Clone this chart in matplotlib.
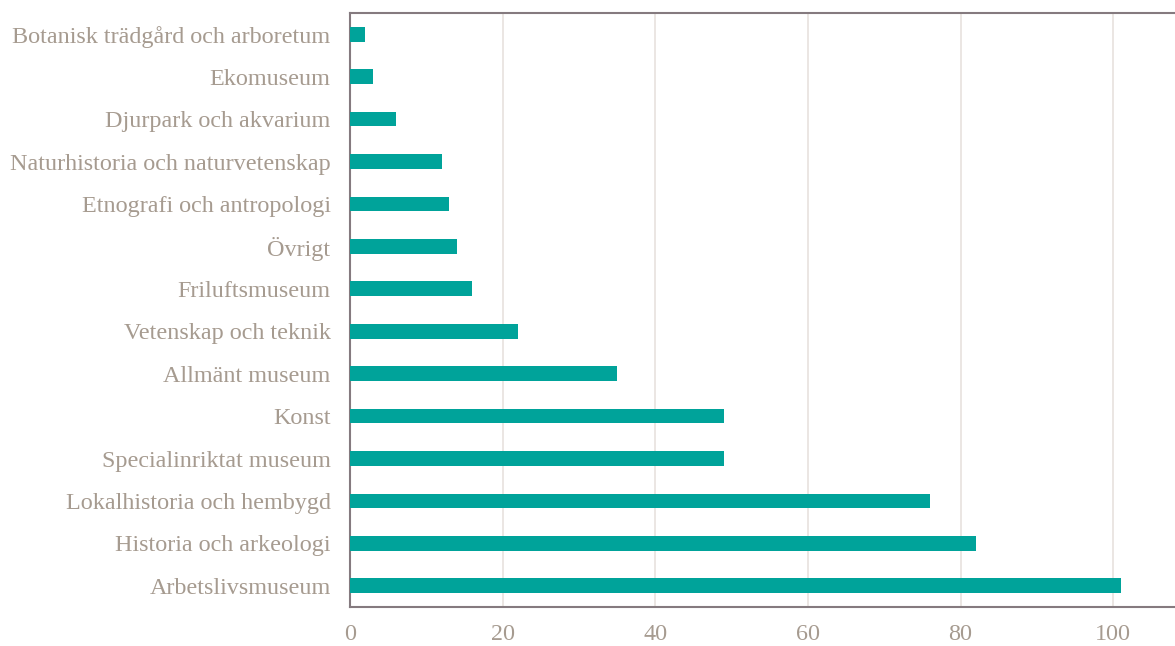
import matplotlib.pyplot as plt

categories = [
    "Botanisk trädgård och arboretum",
    "Ekomuseum",
    "Djurpark och akvarium",
    "Naturhistoria och naturvetenskap",
    "Etnografi och antropologi",
    "Övrigt",
    "Friluftsmuseum",
    "Vetenskap och teknik",
    "Allmänt museum",
    "Konst",
    "Specialinriktat museum",
    "Lokalhistoria och hembygd",
    "Historia och arkeologi",
    "Arbetslivsmuseum",
]
values = [2, 3, 6, 12, 13, 14, 16, 22, 35, 49, 49, 76, 82, 101]
xticks = [0, 20, 40, 60, 80, 100]

bar_color = "#00A39A"
spine_color = "#857A7F"
grid_color = "#E9E4E0"
text_color = "#A69B90"

plt.rcParams["font.family"] = ["Liberation Serif", "DejaVu Serif"]

fig = plt.figure(figsize=(11.75, 6.46), dpi=100)
ax = fig.add_axes([350 / 1175, 1 - 607 / 646, 1 - 350 / 1175, (607 - 13) / 646])

pos = list(range(len(categories)))
ax.barh(pos, values, height=0.35, color=bar_color, zorder=3)

ax.set_ylim(len(categories) - 0.5, -0.5)
ax.set_xlim(0, 108.1)
ax.set_yticks(pos)
ax.set_yticklabels(categories)
ax.set_xticks(xticks)

ax.tick_params(axis="both", length=0, labelsize=17.4, labelcolor=text_color)
ax.tick_params(axis="y", pad=14)
ax.tick_params(axis="x", pad=12)

ax.grid(axis="x", color=grid_color, linewidth=1.3, zorder=0)
ax.set_axisbelow(True)

for side in ["left", "top", "bottom"]:
    ax.spines[side].set_color(spine_color)
    ax.spines[side].set_linewidth(1.5)
ax.spines["right"].set_visible(False)

fig.savefig("out.png", dpi=100)
